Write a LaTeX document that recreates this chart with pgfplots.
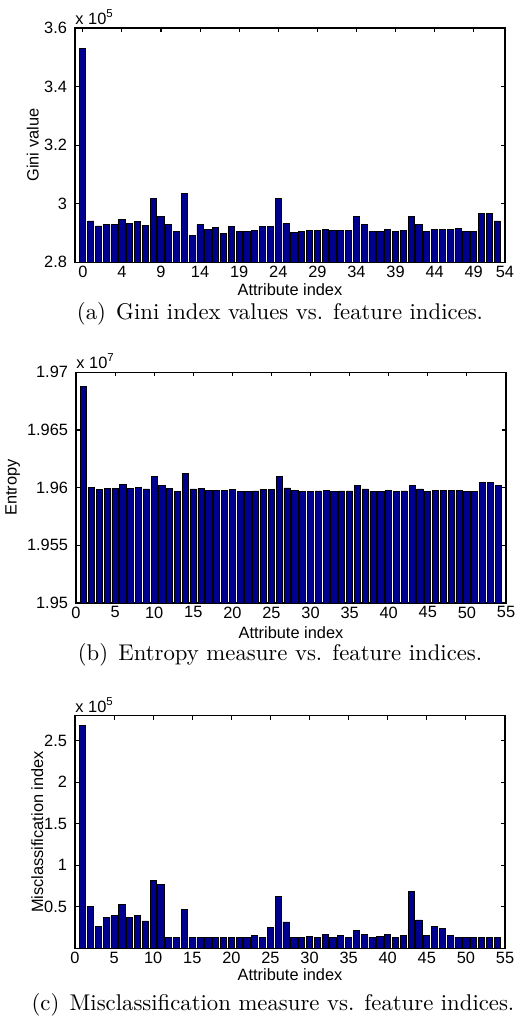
\documentclass[border=0pt]{standalone}
\usepackage{fontspec}
\usepackage{pgfplots}
\pgfplotsset{compat=1.18}
\newfontfamily\arial{Liberation Sans}
\newcommand{\axfont}{\arial\fontsize{7.2}{8.5}\selectfont}
\definecolor{matblue}{RGB}{0,0,143}

\pgfplotsset{
  meas/.style={
    width=189.2pt, scale only axis,
    ybar, bar width=0.8, bar shift=0pt,
    xmin=0, xmax=55,
    tick align=inside, tick pos=both,
    major tick length=1.8pt,
    axis line style={line width=0.5pt},
    every tick/.style={black, line width=0.5pt},
    tick label style={font=\axfont},
    xticklabel style={inner sep=1.4pt},
    label style={font=\axfont, inner sep=0.5pt},
    /pgf/number format/assume math mode=true,
    xlabel={Attribute index},
    anchor=north west,
  },
  bars/.style={fill=matblue, draw=black, line width=0.4pt},
}

\begin{document}
\begin{tikzpicture}
\useasboundingbox (0pt,0pt) rectangle (226.16pt,-448.36pt);

% (a) Gini
\begin{axis}[meas, name=ga, at={(33.0pt,-12.32pt)}, height=103.1pt,
  ymin=2.8, ymax=3.6, ytick={2.8,3,3.2,3.4,3.6},
  xtick={1,6,11,16,21,26,31,36,41,46,51,55},
  xticklabels={0,4,9,14,19,24,29,34,39,44,49,54},
  ylabel={Gini value},
  ylabel style={at={(axis description cs:-0.098,0.5)}, anchor=center},
  xlabel style={at={(axis description cs:0.5,0)}, anchor=center, yshift=-12.2pt},
]
\addplot[bars] coordinates {
(1,3.53) (2,2.941) (3,2.924) (4,2.930) (5,2.928) (6,2.947) (7,2.932) (8,2.939) (9,2.927)
(10,3.017) (11,2.957) (12,2.929) (13,2.906) (14,3.036) (15,2.890) (16,2.928) (17,2.913)
(18,2.920) (19,2.898) (20,2.923) (21,2.906) (22,2.906) (23,2.908) (24,2.922) (25,2.921)
(26,3.018) (27,2.933) (28,2.903) (29,2.906) (30,2.907) (31,2.910) (32,2.913) (33,2.907)
(34,2.907) (35,2.910) (36,2.957) (37,2.928) (38,2.906) (39,2.906) (40,2.913) (41,2.906)
(42,2.910) (43,2.957) (44,2.928) (45,2.906) (46,2.912) (47,2.912) (48,2.912) (49,2.915)
(50,2.906) (51,2.904) (52,2.968) (53,2.967) (54,2.941)
};
\end{axis}
\node[anchor=south west, inner sep=0pt, font=\axfont] at ([yshift=1.4pt]ga.north west) {x 10\textsuperscript{5}};
\node[anchor=base] at (123.2pt,-140.8pt) {(a)\hspace{0.45em}Gini index values vs. feature indices.};

% (b) Entropy
\begin{axis}[meas, name=gb, at={(33.44pt,-163.8pt)}, height=101.5pt,
  ymin=1.95, ymax=1.97, ytick={1.95,1.955,1.96,1.965,1.97},
  yticklabel style={/pgf/number format/precision=3},
  xtick={0,5,...,55},
  ylabel={Entropy},
  ylabel style={at={(axis description cs:-0.147,0.5)}, anchor=center},
  xlabel style={at={(axis description cs:0.5,0)}, anchor=center, yshift=-13.0pt},
]
\addplot[bars] coordinates {
(1,1.96874) (2,1.96003) (3,1.95985) (4,1.95994) (5,1.95994) (6,1.96024) (7,1.95994)
(8,1.96003) (9,1.95988) (10,1.96097) (11,1.96018) (12,1.95991) (13,1.95968) (14,1.96121)
(15,1.95988) (16,1.95994) (17,1.95974) (18,1.95979) (19,1.95979) (20,1.95985) (21,1.95968)
(22,1.95968) (23,1.95971) (24,1.95982) (25,1.95982) (26,1.96097) (27,1.95997) (28,1.95974)
(29,1.95968) (30,1.95968) (31,1.95971) (32,1.95974) (33,1.95968) (34,1.95971) (35,1.95971)
(36,1.96021) (37,1.95988) (38,1.95968) (39,1.95968) (40,1.95976) (41,1.95968) (42,1.95971)
(43,1.96018) (44,1.95988) (45,1.95968) (46,1.95976) (47,1.95976) (48,1.95976) (49,1.95979)
(50,1.95968) (51,1.95968) (52,1.96044) (53,1.96044) (54,1.96015)
};
\end{axis}
\node[anchor=south west, inner sep=0pt, font=\axfont] at ([yshift=1.4pt]gb.north west) {x 10\textsuperscript{7}};
\node[anchor=base] at (123.2pt,-290.8pt) {(b)\hspace{0.45em}Entropy measure vs. feature indices.};

% (c) Misclassification
\begin{axis}[meas, name=gc, at={(33.0pt,-315.0pt)}, height=102.2pt,
  ymin=0, ymax=2.8, ytick={0.5,1,1.5,2,2.5},
  xtick={0,5,...,55},
  ylabel={Misclassification index},
  ylabel style={at={(axis description cs:-0.088,0.5)}, anchor=center},
  xlabel style={at={(axis description cs:0.5,0)}, anchor=center, yshift=-11.8pt},
]
\addplot[bars] coordinates {
(1,2.69) (2,0.50) (3,0.26) (4,0.372) (5,0.392) (6,0.528) (7,0.368) (8,0.396) (9,0.328)
(10,0.812) (11,0.772) (12,0.132) (13,0.132) (14,0.464) (15,0.132) (16,0.132) (17,0.132)
(18,0.132) (19,0.132) (20,0.132) (21,0.132) (22,0.132) (23,0.152) (24,0.132) (25,0.248)
(26,0.624) (27,0.316) (28,0.132) (29,0.132) (30,0.144) (31,0.132) (32,0.164) (33,0.132)
(34,0.156) (35,0.132) (36,0.216) (37,0.168) (38,0.132) (39,0.140) (40,0.168) (41,0.132)
(42,0.152) (43,0.684) (44,0.340) (45,0.148) (46,0.264) (47,0.240) (48,0.156) (49,0.132)
(50,0.132) (51,0.132) (52,0.132) (53,0.132) (54,0.132)
};
\end{axis}
\node[anchor=south west, inner sep=0pt, font=\axfont] at ([yshift=1.4pt]gc.north west) {x 10\textsuperscript{5}};
\node[anchor=base] at (120.1pt,-444.8pt) {(c)\hspace{0.45em}Misclassification measure vs. feature indices.};
\end{tikzpicture}
\end{document}
